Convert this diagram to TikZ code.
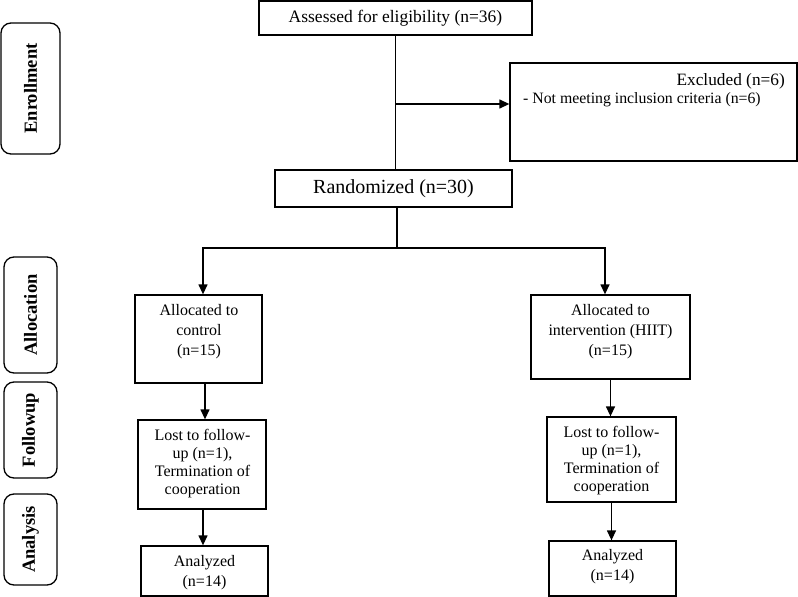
\documentclass[tikz,border=0pt]{standalone}
\usepackage{fontspec}
\setmainfont{Liberation Serif}
\usetikzlibrary{arrows.meta}
\begin{document}
\begin{tikzpicture}[x=1pt,y=-1pt,
  box/.style={draw, line width=1.3pt, inner sep=0pt},
  stage/.style={draw, line width=1.3pt, rounded corners=10pt, inner sep=0pt},
  lab/.style={font=\fontsize{18.5}{22}\selectfont\bfseries, rotate=90, inner sep=0pt},
  txt/.style={font=\fontsize{16}{19.5}\selectfont, align=center, inner sep=0pt},
  ln/.style={line width=1.3pt},
  arr/.style={line width=1.3pt, -{Triangle[length=10pt,width=9pt]}}]
\useasboundingbox (0,0) rectangle (798,597);
% stage labels
\node[stage, minimum width=59pt, minimum height=131pt] (senr) at (30.5,88.5) {};
\node[lab] (tenr) at (senr.center) {Enrollment};
\node[stage, minimum width=53pt, minimum height=116pt] (sall) at (30.5,315) {};
\node[lab] (tall) at (sall.center) {Allocation};
\node[stage, minimum width=53pt, minimum height=96pt] (sfol) at (30.5,430) {};
\node[lab] (tfol) at (sfol.center) {Followup};
\node[stage, minimum width=53pt, minimum height=91pt] (sana) at (30.5,539.5) {};
\node[lab] (tana) at (sana.center) {Analysis};
% main boxes
\node[box, minimum width=273pt, minimum height=34pt, font=\fontsize{17.5}{21}\selectfont] (assess) at (395.5,18) {Assessed for eligibility (n=36)};
\node[box, minimum width=287pt, minimum height=98pt] (excl) at (653.5,112) {};
\node[anchor=east, inner sep=0pt, font=\fontsize{17.3}{21}\selectfont] (exh) at (785,81) {Excluded (n=6)};
\node[anchor=west, inner sep=0pt, font=\fontsize{15.8}{19}\selectfont] (exr) at (523,100) {- Not meeting inclusion criteria (n=6)};
\node[box, minimum width=237pt, minimum height=37pt, font=\fontsize{20}{24}\selectfont] (rand) at (393.5,188.5) {Randomized (n=30)};
% arms
\node[box, minimum width=127pt, minimum height=88pt] (alc) at (198.5,339) {};
\node[txt, font=\fontsize{16}{20}\selectfont] (talc) at (199,332) {Allocated to\\control\\(n=15)};
\node[box, minimum width=159pt, minimum height=84pt] (ari) at (610.5,337) {};
\node[txt, font=\fontsize{16}{20}\selectfont] (tari) at (610.5,332) {Allocated to\\intervention (HIIT)\\(n=15)};
\node[box, minimum width=128pt, minimum height=89pt] (llc) at (202,464.5) {};
\node[txt, font=\fontsize{16}{18}\selectfont] (tllc) at (202.5,464) {Lost to follow-\\up (n=1),\\Termination of\\cooperation};
\node[box, minimum width=129pt, minimum height=85pt] (lri) at (611.5,459.5) {};
\node[txt, font=\fontsize{16}{18}\selectfont] (tlri) at (611.5,461) {Lost to follow-\\up (n=1),\\Termination of\\cooperation};
\node[box, minimum width=127pt, minimum height=50pt] (anl) at (204.5,571) {};
\node[txt, font=\fontsize{16}{20}\selectfont] (tanl) at (204.5,573) {Analyzed\\(n=14)};
\node[box, minimum width=127pt, minimum height=55pt] (anr) at (612.5,568.5) {};
\node[txt, font=\fontsize{16}{20}\selectfont] (tanr) at (612.5,567) {Analyzed\\(n=14)};
% connectors
\draw[ln] (assess.south) -- (assess.south |- rand.north);
\coordinate (ej) at (395.5,104);
\draw[arr] (ej) -- (ej -| excl.west);
\coordinate (rb) at (397,248);
\draw[ln] (rb |- rand.south) -- (rb);
\draw[arr] (rb) -| ([xshift=4.5pt]alc.north);
\draw[arr] (rb) -| ([xshift=-5.5pt]ari.north);
\draw[arr] ([xshift=6.5pt]alc.south) -- ([xshift=6.5pt]alc.south |- llc.north);
\draw[arr] ([xshift=1pt]llc.south) -- ([xshift=1pt]llc.south |- anl.north);
\draw[arr] (ari.south) -- (ari.south |- lri.north);
\draw[arr] (lri.south) -- (lri.south |- anr.north);
\end{tikzpicture}
\end{document}
